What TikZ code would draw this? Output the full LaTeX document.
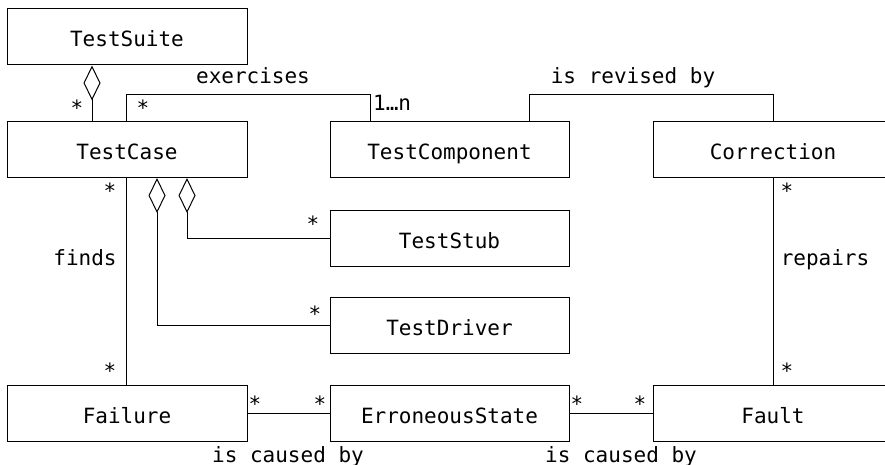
\documentclass[tikz,border=0pt]{standalone}
\usepackage{fontspec}
\setmonofont{DejaVu Sans Mono}
\usetikzlibrary{arrows.meta}
\begin{document}
\begin{tikzpicture}[x=1pt,y=-1pt,
  every node/.style={font=\ttfamily\fontsize{21}{25}\selectfont},
  cls/.style={draw,line width=1pt,minimum height=56pt,inner sep=0pt,anchor=center,text height=20pt,text depth=0pt},
  wcol/.style={minimum width=240pt},
  conn/.style={line width=1pt},
  agg/.style={line width=1pt,{Diamond[open,length=35pt,width=17pt]}-},
  mult/.style={inner sep=0pt,anchor=base},
  lbl/.style={inner sep=0pt,anchor=base}]
\clip (0,0) rectangle (885,465);
\useasboundingbox (0,0) rectangle (885,465);
% classes
\node[cls,wcol] (suite) at (127,37) {TestSuite};
\node[cls,wcol] (case) at (127,149.5) {TestCase};
\node[cls,minimum width=239pt] (comp) at (449.5,149.5) {TestComponent};
\node[cls,wcol] (corr) at (773,149.5) {Correction};
\node[cls,minimum width=239pt] (stub) at (449.5,238) {TestStub};
\node[cls,minimum width=239pt] (drv) at (449.5,325) {TestDriver};
\node[cls,wcol] (fail) at (127,413) {Failure};
\node[cls,minimum width=239pt] (err) at (449.5,413) {ErroneousState};
\node[cls,wcol] (fault) at (773,413) {Fault};
% helper coordinates
\coordinate (ex1) at (126,95);
\coordinate (ex2) at (370,95);
\coordinate (rv1) at (529,95);
\coordinate (rv2) at (773,95);
% connectors
\draw[agg] (suite.south -| 92,0) -- (case.north -| 92,0);
\draw[conn] (case.north -| ex1) -- (ex1) -- (ex2) -- (comp.north -| ex2);
\draw[conn] (comp.north -| rv1) -- (rv1) -- (rv2) -- (corr.north -| rv2);
\draw[conn] (case.south -| 126,0) -- (fail.north -| 126,0);
\draw[agg] (case.south -| 187,0) -- (187,238) -- (stub.west);
\draw[agg] (case.south -| 157,0) -- (157,325) -- (drv.west);
\draw[conn] (fail.east) -- (err.west);
\draw[conn] (err.east) -- (fault.west);
\draw[conn] (corr.south -| 773,0) -- (fault.north -| 773,0);
% labels
\node[lbl] (lex) at (253,84) {exercises};
\node[lbl] (lrv) at (633,84) {is revised by};
\node[lbl] (lfinds) at (85,265) {finds};
\node[lbl] (lrep) at (825,265) {repairs};
\node[lbl] (lc1) at (288,462) {is caused by};
\node[lbl] (lc2) at (621,462) {is caused by};
% multiplicities
\node[mult] (m1) at (77,116) {*};
\node[mult] (m2) at (143,116) {*};
\node[inner sep=0pt,anchor=base west] (m3) at (373,111) {1…n};
\node[mult] (m4) at (110,198) {*};
\node[mult] (m5) at (110,378) {*};
\node[mult] (m6) at (313,231) {*};
\node[mult] (m7) at (315,321) {*};
\node[mult] (m8) at (255,411) {*};
\node[mult] (m9) at (320,411) {*};
\node[mult] (m10) at (577,411) {*};
\node[mult] (m11) at (640,411) {*};
\node[mult] (m12) at (787,198) {*};
\node[mult] (m13) at (787,378) {*};
\end{tikzpicture}
\end{document}
